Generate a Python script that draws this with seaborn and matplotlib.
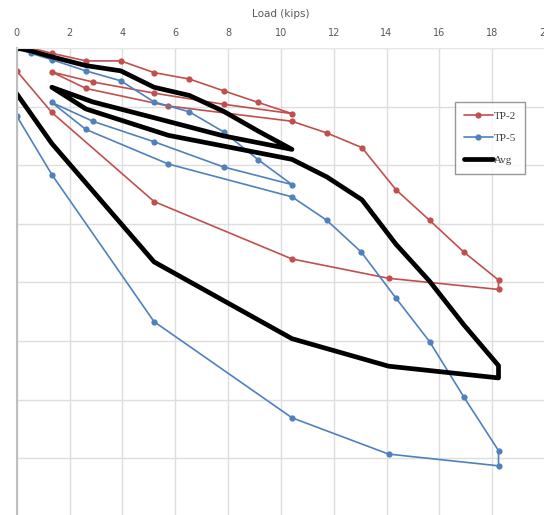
import pandas as pd
import matplotlib
matplotlib.use('Agg')
import matplotlib.pyplot as plt
import seaborn as sns

# load steps (kips), same for both tests: load to 10.4, unload, reload to 18.2, unload
load_tp2 = [0.54, 1.33, 2.62, 3.94, 5.20, 6.54, 7.83, 9.15, 10.42,
            7.83, 5.20, 2.88, 1.33, 2.62, 5.74, 10.42,
            11.74, 13.07, 14.36, 15.63, 16.92, 18.24, 18.24, 14.08, 10.42, 5.20, 1.33, 0.00]
settle_tp2 = [0.000, 0.009, 0.022, 0.022, 0.042, 0.053, 0.073, 0.093, 0.112,
              0.096, 0.077, 0.058, 0.041, 0.069, 0.099, 0.125,
              0.145, 0.170, 0.242, 0.294, 0.348, 0.396, 0.412, 0.393, 0.360, 0.262, 0.110, 0.039]

load_tp5 = [0.00, 0.54, 1.33, 2.62, 3.94, 5.20, 6.54, 7.83, 9.15, 10.42,
            7.83, 5.20, 2.88, 1.33, 2.62, 5.74, 10.42,
            11.74, 13.04, 14.36, 15.63, 16.92, 18.24, 18.24, 14.08, 10.42, 5.20, 1.33, 0.00]
settle_tp5 = [0.000, 0.009, 0.020, 0.039, 0.056, 0.092, 0.109, 0.143, 0.191, 0.233,
              0.203, 0.160, 0.125, 0.093, 0.139, 0.198, 0.254,
              0.294, 0.348, 0.427, 0.501, 0.595, 0.687, 0.713, 0.693, 0.631, 0.467, 0.216, 0.116]

load_avg = [0.00, 0.54, 1.33, 2.62, 3.94, 5.20, 6.54, 7.83, 9.15, 10.42,
            7.83, 5.20, 2.88, 1.33, 2.62, 5.74, 10.42,
            11.74, 13.07, 14.36, 15.63, 16.92, 18.24, 18.24, 14.08, 10.42, 5.20, 1.33, 0.00]
settle_avg = [0.000, 0.005, 0.015, 0.030, 0.039, 0.067, 0.081, 0.108, 0.142, 0.173,
              0.150, 0.119, 0.092, 0.067, 0.104, 0.149, 0.190,
              0.220, 0.259, 0.335, 0.398, 0.472, 0.542, 0.563, 0.543, 0.496, 0.365, 0.163, 0.078]

series_names = ['TP-2', 'TP-5', 'Avg']
colors = {'TP-2': '#C0504D', 'TP-5': '#4F81BD', 'Avg': '#000000'}

frames = []
for name, xs, ys in [('TP-2', load_tp2, settle_tp2),
                     ('TP-5', load_tp5, settle_tp5),
                     ('Avg', load_avg, settle_avg)]:
    frames.append(pd.DataFrame({'step': range(len(xs)), 'load': xs,
                                'settlement': ys, 'series': name}))
df = pd.concat(frames, ignore_index=True)

sns.set_style('white')
plt.rcParams['font.family'] = ['DejaVu Sans']

W, H = 544, 515
fig = plt.figure(figsize=(W / 100, H / 100), dpi=100)
top_px, left_px, right_px = 48, 16.7, 545
ymax = 0.8
px_per_unit = 586
ax = fig.add_axes([left_px / W, 1 - (top_px + ymax * px_per_unit) / H,
                   (right_px - left_px) / W, ymax * px_per_unit / H])

for name in ['TP-2', 'TP-5']:
    sns.lineplot(data=df[df['series'] == name], x='load', y='settlement',
                 sort=False, estimator=None, color=colors[name], lw=1.2,
                 marker='o', markersize=4.5, markeredgewidth=0, label=name, ax=ax)
sns.lineplot(data=df[df['series'] == 'Avg'], x='load', y='settlement',
             sort=False, estimator=None, color='black', lw=3.4,
             label='Avg', ax=ax)

ax.set_xlim(0, 20)
ax.set_ylim(ymax, 0)
ax.set_xticks(range(0, 21, 2))
ax.set_yticks([i / 10 for i in range(9)])
ax.set_yticklabels([])
ax.xaxis.tick_top()
ax.xaxis.set_label_position('top')
ax.set_xlabel('Load (kips)', fontsize=7.5, color='#595959', labelpad=8)
ax.set_ylabel('')
ax.tick_params(axis='x', length=0, labelsize=7, labelcolor='#595959', pad=7)
ax.tick_params(axis='y', length=0)
ax.grid(True, color='#DEDEDE', lw=1)
ax.set_axisbelow(True)
for side in ['right', 'bottom']:
    ax.spines[side].set_visible(False)
ax.spines['top'].set_color('#E6E6E6')
ax.spines['left'].set_color('#BFBFBF')
ax.spines['left'].set_linewidth(1.5)

leg = ax.legend(loc='upper left', bbox_to_anchor=(455 / W, 1 - 102 / H),
                bbox_transform=fig.transFigure, frameon=True, fancybox=False,
                prop={'family': 'Liberation Serif', 'size': 8},
                handlelength=2.6, labelspacing=1.1, borderpad=0.8,
                handletextpad=0.1, borderaxespad=0)
leg.get_frame().set_edgecolor('#7F7F7F')
leg.get_frame().set_linewidth(1)
for t in leg.get_texts():
    t.set_color('#404040')

fig.savefig('out.png', dpi=100)
